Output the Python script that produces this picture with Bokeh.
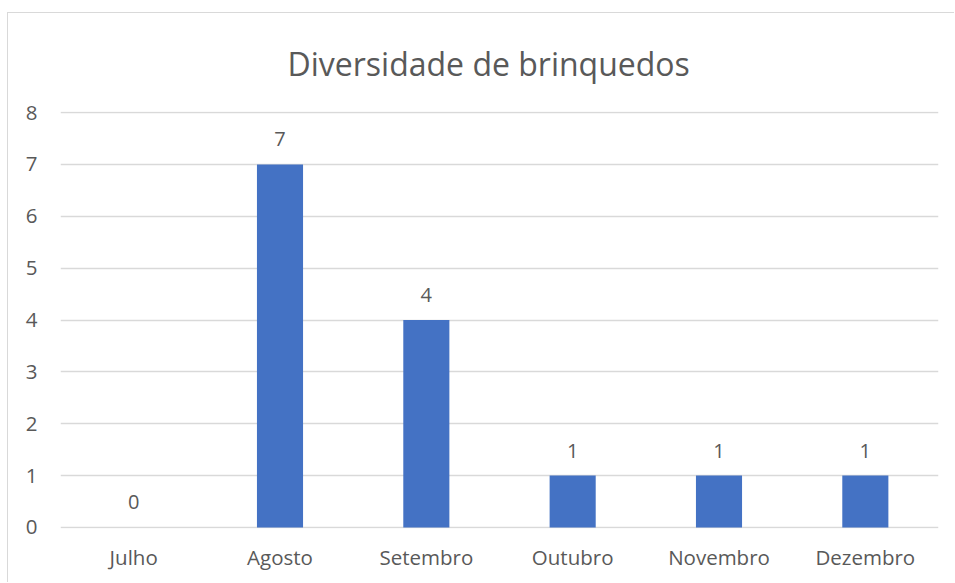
from bokeh.plotting import figure
from bokeh.models import ColumnDataSource, Range1d, FixedTicker
from bokeh.core.properties import value
from bokeh.embed import file_html
from bokeh.resources import INLINE

months = ["Julho", "Agosto", "Setembro", "Outubro", "Novembro", "Dezembro"]
counts = [0, 7, 4, 1, 1, 1]
y_ticks = [0, 1, 2, 3, 4, 5, 6, 7, 8]
title_text = "Diversidade de brinquedos"

FONT = "Open Sans"
TXT = "#595959"

src = ColumnDataSource(data=dict(month=months, count=counts,
                                 label=[str(c) for c in counts]))

p = figure(x_range=months, y_range=Range1d(-0.02, 8.02),
           width=947, height=570, output_backend="svg", toolbar_location=None,
           title=title_text,
           min_border_left=52, min_border_right=17, min_border_top=98, min_border_bottom=55)

p.styles = {"margin-left": "7px", "margin-top": "12px",
            "border-left": "1px solid #D9D9D9", "border-top": "1px solid #D9D9D9"}

p.title.align = "left"
p.title.offset = 227
p.title.text_font = FONT
p.title.text_font_size = "32px"
p.title.text_font_style = "normal"
p.title.text_color = TXT
p.title.standoff = 53

p.vbar(x="month", top="count", width=0.315, source=src, color="#4472C4", line_color=None)
p.text(x="month", y="count", text="label", source=src, text_font=value(FONT),
       text_font_size="20px", text_color=TXT, text_align="center",
       text_baseline="alphabetic", y_offset=-25)

p.outline_line_color = None
p.background_fill_color = "white"
p.border_fill_color = "white"

p.yaxis.ticker = FixedTicker(ticks=y_ticks)
p.ygrid.ticker = FixedTicker(ticks=y_ticks)
p.ygrid.grid_line_color = "#D9D9D9"
p.ygrid.grid_line_width = 1.5
p.xgrid.grid_line_color = None

for ax in (p.xaxis, p.yaxis):
    ax.axis_line_color = None
    ax.major_tick_line_color = None
    ax.minor_tick_line_color = None
    ax.major_tick_out = 0
    ax.major_tick_in = 0
    ax.major_label_text_font = FONT
    ax.major_label_text_font_size = "20.5px"
    ax.major_label_text_color = TXT

p.yaxis.major_label_standoff = 23
p.xaxis.major_label_standoff = 14

open("out.html", "w").write(file_html(p, INLINE))
